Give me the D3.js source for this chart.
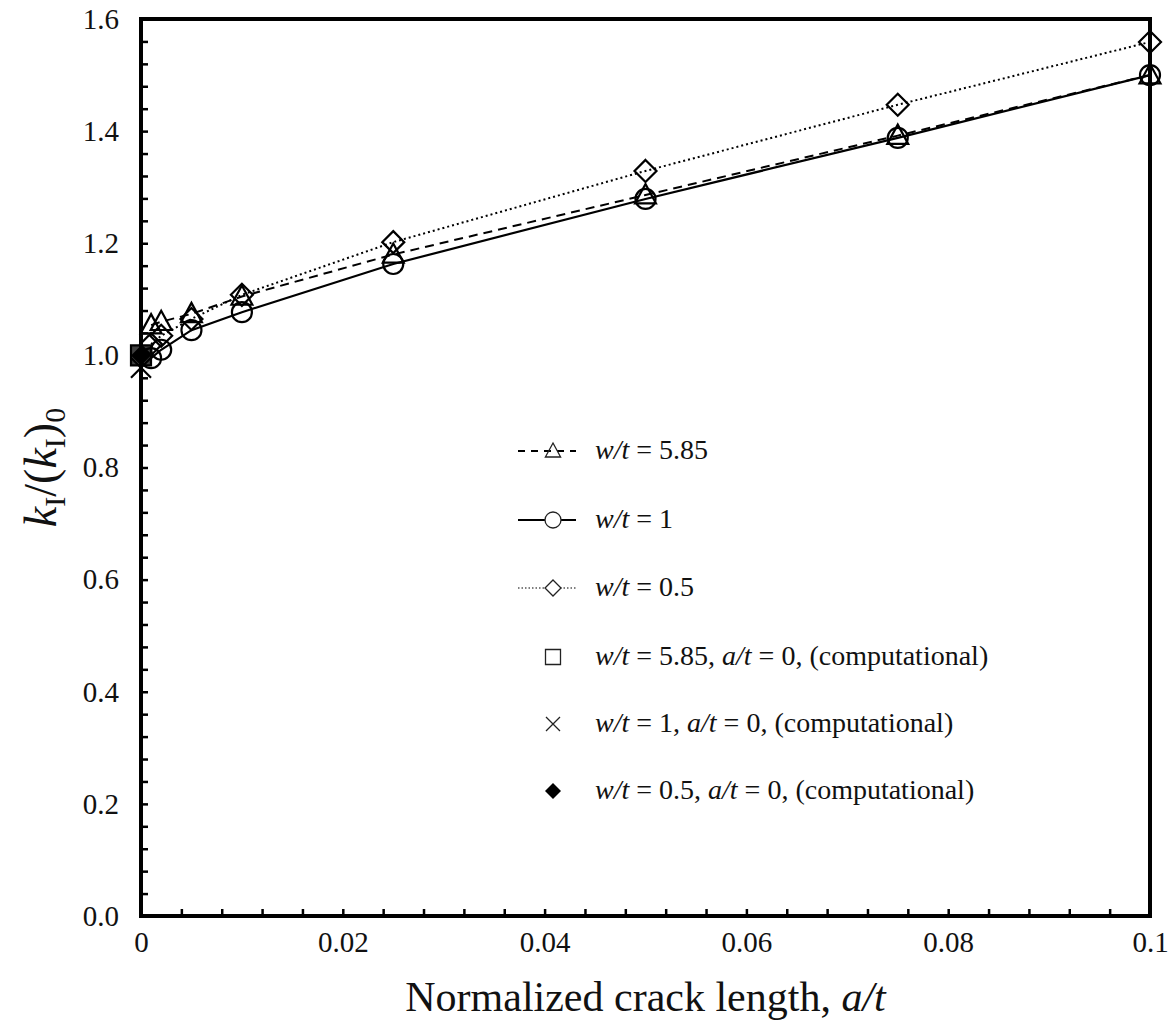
<!DOCTYPE html>
<html>
<head>
  <meta charset="utf-8">
  <title>Normalized SIF vs crack length</title>
  <script src="https://cdn.jsdelivr.net/npm/d3@7"></script>
  <style>
    body { margin: 0; background: #fff; }
    svg { display: block; }
    .tick line { stroke: #000; stroke-width: 2.5px; }
  </style>
</head>
<body>
<script>
  // a/t values
  var crackLen = [0.001, 0.002, 0.005, 0.01, 0.025, 0.05, 0.075, 0.1];
  var kWide = [1.054, 1.06, 1.074, 1.105, 1.18, 1.286, 1.392, 1.5];   // w/t = 5.85
  var kOne = [0.995, 1.01, 1.045, 1.077, 1.163, 1.279, 1.388, 1.5];  // w/t = 1
  var kHalf = [1.02, 1.035, 1.065, 1.108, 1.202, 1.329, 1.447, 1.559]; // w/t = 0.5
  // a/t = 0 computational points
  var compSquare = [0, 1.0];
  var compCross = [0, 0.978];
  var compDiamond = [0, 1.0];

  var yTicks = d3.range(0, 41).map(function (i) { return i * 0.04; });
  var yLabels = ["0.0", "0.2", "0.4", "0.6", "0.8", "1.0", "1.2", "1.4", "1.6"];
  var xTicks = d3.range(0, 26).map(function (i) { return i * 0.004; });
  var xLabels = ["0", "0.02", "0.04", "0.06", "0.08", "0.1"];

  var serif = '"Liberation Serif", "Times New Roman", serif';
  var W = 1173, H = 1032;
  var m = { left: 141, right: 1150, top: 19, bottom: 916 };

  var svg = d3.select('body').append('svg')
    .attr('width', W).attr('height', H)
    .style('font-family', serif);

  var x = d3.scaleLinear().domain([0, 0.1]).range([m.left, m.right]);
  var y = d3.scaleLinear().domain([0, 1.6]).range([m.bottom, m.top]);

  // axes, ticks pointing inward
  var yAxis = d3.axisLeft(y).tickValues(yTicks).tickSize(-7).tickPadding(22)
    .tickFormat(function (d, i) { return i % 5 === 0 ? yLabels[i / 5] : ''; });
  var xAxis = d3.axisBottom(x).tickValues(xTicks).tickSize(-7).tickPadding(15)
    .tickFormat(function (d, i) { return i % 5 === 0 ? xLabels[i / 5] : ''; });

  function clean(g) {
    g.attr('font-family', serif).attr('font-size', 29);
    g.select('.domain').remove();
    g.selectAll('text')
      .style('font-family', serif)
      .style('font-size', '29px')
      .attr('fill', '#111');
  }
  svg.append('g').attr('transform', 'translate(' + m.left + ',0)').call(yAxis).call(clean);
  svg.append('g').attr('transform', 'translate(0,' + m.bottom + ')').call(xAxis).call(clean);

  // frame
  svg.append('rect')
    .attr('x', m.left).attr('y', m.top)
    .attr('width', m.right - m.left).attr('height', m.bottom - m.top)
    .attr('fill', 'none').attr('stroke', '#000').attr('stroke-width', 4);

  // marker shapes
  function triPath(s) {
    return 'M0,' + (-s) + 'L' + (s * 0.95) + ',' + (s * 0.75) + 'L' + (-s * 0.95) + ',' + (s * 0.75) + 'Z';
  }
  function diaPath(s) {
    return 'M0,' + (-s) + 'L' + s + ',0L0,' + s + 'L' + (-s) + ',0Z';
  }
  function sqPath(s) {
    return 'M' + (-s) + ',' + (-s) + 'H' + s + 'V' + s + 'H' + (-s) + 'Z';
  }
  function crossPath(s) {
    return 'M' + (-s) + ',' + (-s) + 'L' + s + ',' + s + 'M' + s + ',' + (-s) + 'L' + (-s) + ',' + s;
  }

  var line = d3.line()
    .x(function (d) { return x(d[0]); })
    .y(function (d) { return y(d[1]); });

  var series = [
    { vals: kHalf, dash: '2,3', width: 2, marker: 'diamond' },
    { vals: kWide, dash: '9,6', width: 2, marker: 'triangle' },
    { vals: kOne, dash: null, width: 2.2, marker: 'circle' }
  ];

  series.forEach(function (s) {
    var pts = crackLen.map(function (a, i) { return [a, s.vals[i]]; });
    svg.append('path').datum(pts)
      .attr('d', line)
      .attr('fill', 'none').attr('stroke', '#000')
      .attr('stroke-width', s.width)
      .attr('stroke-dasharray', s.dash);
    var g = svg.append('g');
    pts.forEach(function (p) {
      var mk;
      if (s.marker === 'circle') {
        mk = g.append('circle').attr('r', 10).attr('cx', x(p[0])).attr('cy', y(p[1]));
      } else {
        mk = g.append('path')
          .attr('d', s.marker === 'triangle' ? triPath(11) : diaPath(11))
          .attr('transform', 'translate(' + x(p[0]) + ',' + y(p[1]) + ')');
      }
      mk.attr('fill', 'none').attr('stroke', '#000').attr('stroke-width', 2.2);
    });
  });

  // computational points at a/t = 0
  svg.append('path').attr('d', diaPath(10))
    .attr('transform', 'translate(' + x(compDiamond[0]) + ',' + y(compDiamond[1]) + ')')
    .attr('fill', '#000');
  svg.append('path').attr('d', sqPath(10))
    .attr('transform', 'translate(' + x(compSquare[0]) + ',' + y(compSquare[1]) + ')')
    .attr('fill', '#000').attr('fill-opacity', 0.75).attr('stroke', '#000').attr('stroke-width', 2.2);
  svg.append('path').attr('d', crossPath(10))
    .attr('transform', 'translate(' + x(compCross[0]) + ',' + y(compCross[1]) + ')')
    .attr('fill', 'none').attr('stroke', '#000').attr('stroke-width', 2.2);

  // legend
  var legend = [
    { marker: 'triangle', dash: '7,6', lw: 2, wt: '5.85', comp: false },
    { marker: 'circle', dash: null, lw: 2, wt: '1', comp: false },
    { marker: 'diamond', dash: '1.5,2', lw: 1.2, wt: '0.5', comp: false },
    { marker: 'square', wt: '5.85', comp: true },
    { marker: 'cross', wt: '1', comp: true },
    { marker: 'fdiamond', wt: '0.5', comp: true }
  ];
  var legY = [449, 518, 586, 655, 722, 789];
  var lg = svg.append('g');
  legend.forEach(function (d, i) {
    var cy = legY[i];
    if (!d.comp) {
      lg.append('line').attr('x1', 518).attr('x2', 576).attr('y1', cy + 2).attr('y2', cy + 2)
        .attr('stroke', '#000').attr('stroke-width', d.lw).attr('stroke-dasharray', d.dash);
    }
    var mk;
    if (d.marker === 'circle') {
      mk = lg.append('circle').attr('cx', 553).attr('cy', cy + 2).attr('r', 8);
    } else {
      var p = { triangle: triPath(8), diamond: diaPath(8), square: sqPath(7.5), cross: crossPath(7), fdiamond: diaPath(8) }[d.marker];
      mk = lg.append('path').attr('d', p).attr('transform', 'translate(553,' + (cy + 2) + ')');
    }
    if (d.marker === 'fdiamond') {
      mk.attr('fill', '#000');
    } else {
      mk.attr('fill', d.marker === 'diamond' || d.marker === 'circle' ? '#fff' : 'none')
        .attr('stroke', '#222').attr('stroke-width', 1.3);
    }
    var t = lg.append('text').attr('x', 595).attr('y', cy + 10)
      .attr('font-size', 28).attr('fill', '#111');
    t.append('tspan').attr('font-style', 'italic').text('w/t');
    t.append('tspan').text(' = ' + d.wt + (d.comp ? ', ' : ''));
    if (d.comp) {
      t.append('tspan').attr('font-style', 'italic').text('a/t');
      t.append('tspan').text(' = 0, (computational)');
    }
  });

  // axis titles
  var xt = svg.append('text').attr('x', (m.left + m.right) / 2).attr('y', 1011)
    .attr('text-anchor', 'middle').attr('font-size', 42).attr('fill', '#111');
  xt.append('tspan').text('Normalized crack length, ');
  xt.append('tspan').attr('font-style', 'italic').text('a/t');

  var yt = svg.append('text')
    .attr('transform', 'translate(56,' + ((m.top + m.bottom) / 2) + ') rotate(-90)')
    .attr('text-anchor', 'middle').attr('font-size', 46).attr('fill', '#111');
  yt.append('tspan').attr('font-style', 'italic').text('k');
  yt.append('tspan').attr('font-size', 30).attr('dy', 9).text('I');
  yt.append('tspan').attr('dy', -9).text('/(');
  yt.append('tspan').attr('font-style', 'italic').text('k');
  yt.append('tspan').attr('font-size', 30).attr('dy', 9).text('I');
  yt.append('tspan').attr('dy', -9).text(')');
  yt.append('tspan').attr('font-size', 30).attr('dy', 9).text('0');
</script>
</body>
</html>
